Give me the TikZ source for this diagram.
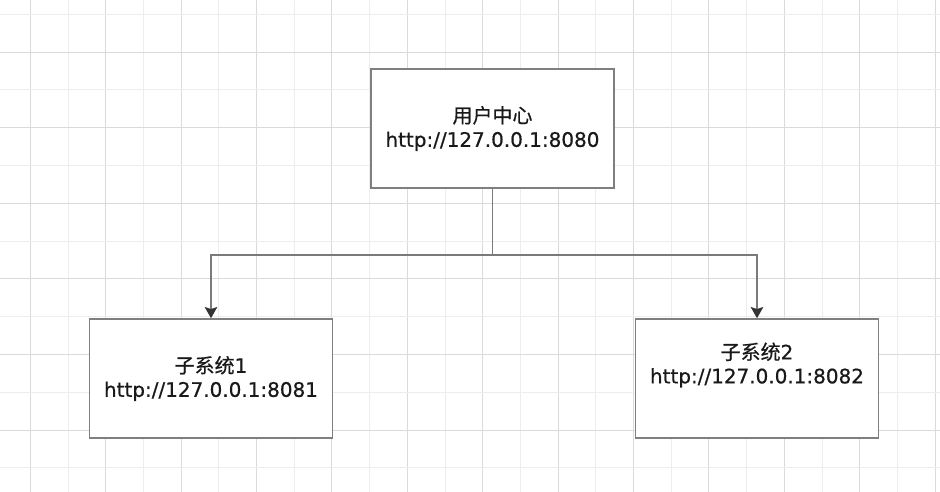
\documentclass[tikz,border=0pt]{standalone}
\usepackage{fontspec}
\setmainfont[FakeBold=0.6]{DejaVu Sans}
\newfontfamily\cjk[FakeBold=0.6]{Noto Sans CJK SC}
\usetikzlibrary{arrows.meta}
\definecolor{gridmaj}{HTML}{DADADA}
\definecolor{gridmin}{HTML}{EDEDED}
\definecolor{boxline}{HTML}{7F7F7F}
\definecolor{linkline}{HTML}{7A7A7A}
\definecolor{tipfill}{HTML}{333333}

\begin{document}
\begin{tikzpicture}[x=0.025cm,y=-0.025cm]
		\useasboundingbox (0,0) rectangle (940,492);

		% grid
		\foreach \i in {0,...,24} {
			\ifodd\i \def\gc{gridmin}\else \def\gc{gridmaj}\fi
			\draw[\gc, line width=0.7pt] ({30.3+37.7*\i},0) -- ({30.3+37.7*\i},492);
		}
		\foreach \j in {0,...,12} {
			\ifodd\j \def\gc{gridmaj}\else \def\gc{gridmin}\fi
			\draw[\gc, line width=0.7pt] (0,{14.3+37.8*\j}) -- (940,{14.3+37.8*\j});
		}

		\begin{scope}[every node/.style={rectangle,draw=boxline,line width=1.1pt,fill=white,
				minimum width=6.075cm,minimum height=2.975cm,align=center,text=black!90,
				font=\fontsize{14.2}{17}\selectfont}]
			\node (uc) at (492.5,128.5) {{\cjk 用户中心}\\http://127.0.0.1:8080};

			\node (sa) at (211,378.5) {{\cjk 子系统}1\\http://127.0.0.1:8081};
			\node (sb) at (757,378.5) {{\cjk 子系统}2\\http://127.0.0.1:8082\\ \strut};
		\end{scope}

		\coordinate (split) at (492.5,255);

		\begin{scope}[>={Stealth[length=8pt,width=9pt,inset=1.5pt,tipfill]}]
			\draw[linkline, line width=1.1pt] (uc) -- (split);
			\draw[linkline, line width=1.1pt, ->] (split) -| (sa);
			\draw[linkline, line width=1.1pt, ->] (split) -| (sb);
		\end{scope}
	\end{tikzpicture}
\end{document}
